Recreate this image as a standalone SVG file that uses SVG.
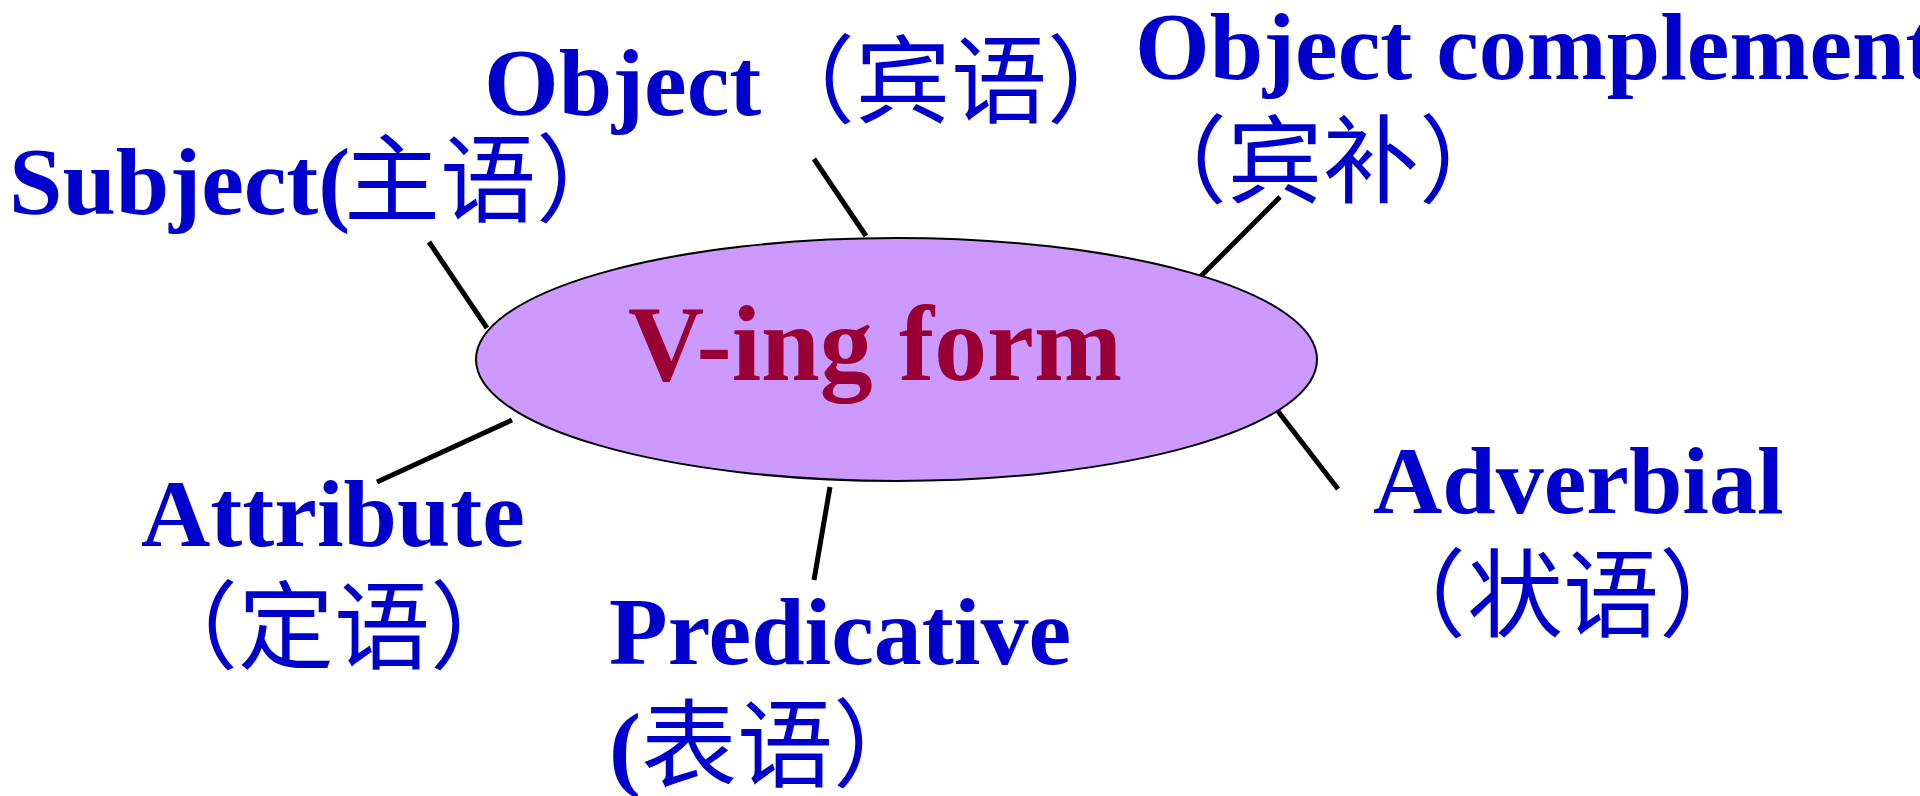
<svg xmlns="http://www.w3.org/2000/svg" width="1920" height="796" viewBox="0 0 1920 796">
<style>
.lat{font-family:"Liberation Serif","Times New Roman",serif;font-weight:bold;font-size:96px;fill:#0000CC}
.cjk{font-family:"Noto Sans CJK SC","Noto Sans CJK JP",sans-serif;font-weight:normal;font-size:96px;fill:#0000CC}
.conn{stroke:#000;stroke-width:5;fill:none}
</style>
<rect width="1920" height="796" fill="#fff"/>
<g id="connectors">
<line class="conn" x1="429" y1="242" x2="487" y2="328"/>
<line class="conn" x1="814" y1="159" x2="866" y2="236"/>
<line class="conn" x1="1280" y1="197" x2="1200" y2="277"/>
<line class="conn" x1="1277" y1="410" x2="1338" y2="489"/>
<line class="conn" x1="512" y1="420" x2="377" y2="482"/>
<line class="conn" x1="830" y1="487" x2="814" y2="580"/>
</g>
<g id="center">
<ellipse cx="896.5" cy="359.5" rx="420.5" ry="121.5" fill="#CC99FF" stroke="#000" stroke-width="2"/>
<text x="628" y="380" font-family="Liberation Serif, Times New Roman, serif" font-weight="bold" font-size="108" fill="#990033" textLength="494" lengthAdjust="spacingAndGlyphs">V-ing form</text>
</g>
<g id="subject">
<text y="214"><tspan class="lat" x="9">Subject(</tspan><tspan class="cjk" x="344 440 536">主语）</tspan></text>
</g>
<g id="object">
<text y="115"><tspan class="lat" x="484">Object</tspan><tspan class="cjk" x="759 855 951 1047">（宾语）</tspan></text>
</g>
<g id="object-complement">
<text class="lat" x="1135" y="79">Object complement</text>
<text class="cjk" y="195" x="1131 1227 1323 1419">（宾补）</text>
</g>
<g id="adverbial">
<text class="lat" x="1373" y="513">Adverbial</text>
<text class="cjk" y="629" x="1370 1467 1563 1659">（状语）</text>
</g>
<g id="attribute">
<text class="lat" x="141" y="546">Attribute</text>
<text class="cjk" y="661" x="142 238 334 430">（定语）</text>
</g>
<g id="predicative">
<text class="lat" x="609" y="664">Predicative</text>
<text y="779"><tspan class="lat" x="609">(</tspan><tspan class="cjk" x="641 737 833">表语）</tspan></text>
</g>
</svg>
